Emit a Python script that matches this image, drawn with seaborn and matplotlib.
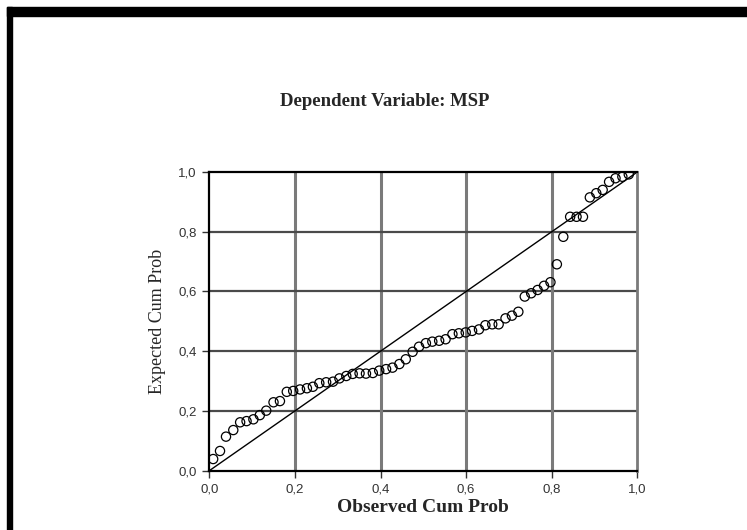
import matplotlib.pyplot as plt
import matplotlib.patches as mpatches
import seaborn as sns

# observed vs expected cumulative probabilities
observed = [0.009, 0.025, 0.039, 0.056, 0.072, 0.087, 0.103, 0.118, 0.133, 0.150,
            0.165, 0.181, 0.196, 0.212, 0.228, 0.242, 0.257, 0.273, 0.289, 0.304,
            0.320, 0.335, 0.351, 0.366, 0.382, 0.397, 0.413, 0.428, 0.444, 0.459,
            0.475, 0.490, 0.506, 0.521, 0.537, 0.552, 0.568, 0.583, 0.599, 0.614,
            0.630, 0.645, 0.661, 0.676, 0.692, 0.707, 0.722, 0.737, 0.752, 0.767,
            0.782, 0.797, 0.812, 0.827, 0.843, 0.858, 0.873, 0.889, 0.904, 0.919,
            0.934, 0.949, 0.965, 0.980]
expected = [0.039, 0.066, 0.114, 0.136, 0.162, 0.166, 0.172, 0.186, 0.201, 0.229,
            0.233, 0.264, 0.267, 0.272, 0.276, 0.281, 0.293, 0.296, 0.298, 0.309,
            0.317, 0.324, 0.326, 0.325, 0.327, 0.335, 0.340, 0.345, 0.357, 0.373,
            0.398, 0.415, 0.427, 0.432, 0.435, 0.440, 0.457, 0.460, 0.463, 0.468,
            0.473, 0.487, 0.490, 0.490, 0.510, 0.519, 0.532, 0.583, 0.594, 0.605,
            0.619, 0.631, 0.691, 0.783, 0.850, 0.850, 0.850, 0.915, 0.929, 0.940,
            0.967, 0.979, 0.984, 0.992]
ticks = [0.0, 0.2, 0.4, 0.6, 0.8, 1.0]
tick_labels = ["0,0", "0,2", "0,4", "0,6", "0,8", "1,0"]

sns.set_style("white")
plt.rcParams["font.family"] = ["Liberation Sans", "DejaVu Sans"]

fig = plt.figure(figsize=(7.47, 5.30), dpi=100)
ax = fig.add_axes([0.2802, 0.1119, 0.5730, 0.5636])

# gridlines: vertical lighter and thicker, horizontal darker
for t in ticks[1:-1]:
    ax.axvline(t, color="#7a7a7a", lw=2.2, zorder=1)
    ax.axhline(t, color="#4a4a4a", lw=1.6, zorder=1)

ax.axline((0, 0), (1, 1), color="black", lw=1.0, zorder=2)

sns.scatterplot(x=observed, y=expected, ax=ax, marker="o", s=44,
                facecolor="none", edgecolor="black", linewidth=0.9, zorder=3)

ax.set_xlim(0, 1)
ax.set_ylim(0, 1)
ax.set_xticks(ticks)
ax.set_xticklabels(tick_labels)
ax.set_yticks(ticks)
ax.set_yticklabels(tick_labels)
ax.tick_params(axis="both", which="major", direction="out", length=5, width=1,
               color="#333333", labelsize=9.5, labelcolor="#333333", pad=4,
               bottom=True, left=True)

for side in ["top", "bottom", "left"]:
    ax.spines[side].set_color("black")
    ax.spines[side].set_linewidth(1.6)
ax.spines["right"].set_color("#7a7a7a")
ax.spines["right"].set_linewidth(2.0)

ax.set_xlabel("Observed Cum Prob", family="Liberation Serif", fontweight="bold",
              fontsize=14, labelpad=3)
ax.set_ylabel("Expected Cum Prob", family="Liberation Serif", fontsize=13,
              labelpad=9)

fig.text(0.515, 0.809, "Dependent Variable: MSP", family="Liberation Serif",
         fontweight="bold", fontsize=13.5, ha="center", va="center")

# black frame pieces on top and left edge of the picture
fig.patches.append(mpatches.Rectangle((0.0094, 0.9704), 0.9906, 0.0158,
                                      transform=fig.transFigure, color="black",
                                      zorder=10))
fig.patches.append(mpatches.Rectangle((0.0094, 0.0), 0.0071, 0.9862,
                                      transform=fig.transFigure, color="black",
                                      zorder=10))

fig.savefig("out.png", dpi=100)
